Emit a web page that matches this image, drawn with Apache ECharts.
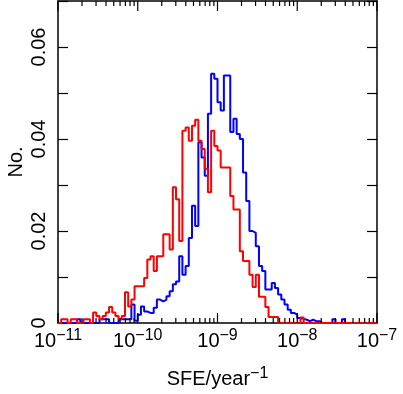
<!DOCTYPE html>
<html>
<head>
<meta charset="utf-8">
<script src="https://cdn.jsdelivr.net/npm/echarts@6.0.0/dist/echarts.min.js"></script>
<style>
html, body { margin: 0; padding: 0; background: #fff; }
#chart { width: 403px; height: 394px; }
#err { position: absolute; left: 70px; top: 20px; font: 10px monospace; color: #c00; }
</style>
</head>
<body>
<div id="chart"></div>
<div id="err"></div>
<script>
window.onerror = function (msg) {
    document.getElementById('err').textContent += msg + ' | ';
};

// histogram bins: log10(SFE) from -11 in steps of 0.04 dex
var logStart = -11,
    binWidth = 0.04;

var red = [
    0, 0.0008, 0.0008, 0, 0.0008, 0.0008, 0, 0, 0.0008, 0.0008,
    0, 0.0023, 0.0015, 0.0008, 0.0015, 0.0023, 0.0035, 0.0023, 0.0015, 0.0008,
    0.0015, 0.0067, 0.0036, 0.0051, 0.008, 0.008, 0.008, 0.0098, 0.0138, 0.0145,
    0.0113, 0.0145, 0.0145, 0.0193, 0.0193, 0.016, 0.0295, 0.0269, 0.0178, 0.0418,
    0.0425, 0.0396, 0.0429, 0.0442, 0.0396, 0.0378, 0.0335, 0.0284, 0.0418, 0.0385,
    0.0375, 0.0338, 0.0338, 0.0338, 0.0276, 0.0247, 0.0247, 0.0156, 0.0135, 0.0135,
    0.0105, 0.0078, 0.0105, 0.0057, 0.0057, 0.0035, 0.0013, 0.0013, 0.0013, 0,
    0, 0, 0, 0, 0, 0, 0.0012, 0, 0, 0,
    0, 0, 0, 0, 0, 0, 0, 0, 0, 0,
    0, 0, 0, 0, 0, 0, 0, 0, 0, 0
];

var blue = [
    0, 0, 0, 0, 0, 0, 0.0008, 0, 0, 0,
    0, 0, 0, 0.0008, 0.0008, 0.0008, 0, 0, 0, 0.0008,
    0.0008, 0.0008, 0.0008, 0.004, 0.0005, 0.0018, 0.0036, 0.0025, 0.0022, 0.0022,
    0.0033, 0.0051, 0.0047, 0.0051, 0.0058, 0.0069, 0.0084, 0.009, 0.0145, 0.0105,
    0.0124, 0.0185, 0.0255, 0.0211, 0.0393, 0.036, 0.032, 0.0455, 0.0542, 0.0531,
    0.048, 0.0462, 0.0538, 0.0538, 0.0415, 0.0444, 0.0411, 0.04, 0.0327, 0.0265,
    0.02, 0.0196, 0.0167, 0.0124, 0.0113, 0.0073, 0.0073, 0.0087, 0.0076, 0.0062,
    0.0051, 0.004, 0.0029, 0.0022, 0.0018, 0.0011, 0.0009, 0.0007, 0.0004, 0.0007,
    0.0004, 0.0004, 0, 0, 0, 0, 0.0008, 0, 0, 0.0008,
    0, 0, 0, 0, 0, 0, 0, 0, 0, 0
];

var yTickLabels = ['0', '', '0.02', '', '0.04', '', '0.06', ''];
var decades = [-11, -10, -9, -8, -7];
var yMax = 0.07;

var font = 'Liberation Sans';

// points at left bin edges, one extra to close the last bin
function stepData(vals) {
    var out = [];
    for (var i = 0; i < vals.length; i++) {
        out.push([Math.pow(10, logStart + i * binWidth), vals[i]]);
    }
    out.push([Math.pow(10, logStart + vals.length * binWidth), vals[vals.length - 1]]);
    return out;
}

// log ticks 1..9 x 10^d : [value, isMajor]
var logTicks = [];
decades.forEach(function (d, i) {
    var n = i < decades.length - 1 ? 9 : 1;
    for (var m = 1; m <= n; m++) logTicks.push([m * Math.pow(10, d), m === 1]);
});

var supRich = {
    b: { fontSize: 20, fontFamily: font, color: '#000', lineHeight: 26, verticalAlign: 'middle' },
    s: { fontSize: 16, fontFamily: font, color: '#000', lineHeight: 15, verticalAlign: 'top' }
};

function xAxisOpt(pos, showLabel) {
    return {
        type: 'log',
        logBase: 10,
        position: pos,
        min: 1e-11,
        max: 1e-7,
        splitNumber: 4,
        axisLine: { show: true, onZero: false, lineStyle: { color: '#000', width: 1.5 } },
        axisTick: { show: false },
        minorTick: { show: false },
        splitLine: { show: false },
        minorSplitLine: { show: false },
        axisLabel: {
            show: showLabel,
            margin: 5,
            showMinLabel: true,
            showMaxLabel: true,
            formatter: function (v) {
                var e = Math.round(Math.log10(v));
                return '{b|10}{s|\u2212' + (-e) + '}';
            },
            rich: supRich
        }
    };
}

function yAxisOpt(pos, showLabel) {
    return {
        type: 'value',
        position: pos,
        min: 0,
        max: yMax,
        interval: 0.01,
        axisLine: { show: true, onZero: false, lineStyle: { color: '#000', width: 1.5 } },
        axisTick: { show: true, inside: true, length: 10, lineStyle: { color: '#000', width: 1.2 } },
        splitLine: { show: false },
        axisLabel: {
            show: showLabel,
            rotate: 90,
            margin: 9,
            fontSize: 20,
            fontFamily: font,
            color: '#000',
            formatter: function (v) {
                return yTickLabels[Math.round(v / 0.01)] || '';
            }
        }
    };
}

var myChart = echarts.init(document.getElementById('chart'), null, { renderer: 'canvas' });

var bottomX = xAxisOpt('bottom', true);
bottomX.name = '{b|SFE/year}{s|\u22121}';
bottomX.nameLocation = 'middle';
bottomX.nameGap = 43;
bottomX.nameTextStyle = { rich: supRich };

var leftY = yAxisOpt('left', true);
leftY.name = 'No.';
leftY.nameLocation = 'middle';
leftY.nameRotate = 90;
leftY.nameGap = 32;
leftY.nameMoveOverlap = false;
leftY.nameTextStyle = { fontSize: 20, fontFamily: font, color: '#000' };

var option = {
    animation: false,
    backgroundColor: '#fff',
    grid: { left: 58, right: 26, top: 1, bottom: 71, outerBoundsMode: 'none' },
    xAxis: [bottomX, xAxisOpt('top', false)],
    yAxis: [leftY, yAxisOpt('right', false)],
    series: [
        {
            name: 'blue',
            type: 'line',
            step: 'end',
            symbol: 'none',
            xAxisIndex: 0,
            yAxisIndex: 0,
            lineStyle: { color: '#0000ff', width: 2 },
            data: stepData(blue)
        },
        {
            name: 'red',
            type: 'line',
            step: 'end',
            symbol: 'none',
            xAxisIndex: 0,
            yAxisIndex: 0,
            lineStyle: { color: '#ff0000', width: 2 },
            data: stepData(red)
        }
    ]
};

myChart.setOption(option);

// x ticks on bottom and top edges, placed through the chart's own log scale
var yBottom = myChart.convertToPixel({ yAxisIndex: 0 }, 0);
var yTop = myChart.convertToPixel({ yAxisIndex: 0 }, yMax);
var tickEls = [];
logTicks.forEach(function (t) {
    var x = myChart.convertToPixel({ xAxisIndex: 0 }, t[0]);
    var len = t[1] ? 10 : 5;
    var st = { stroke: '#000', lineWidth: 1.2 };
    tickEls.push({ type: 'line', z: 100, silent: true, shape: { x1: x, y1: yBottom, x2: x, y2: yBottom - len }, style: st });
    tickEls.push({ type: 'line', z: 100, silent: true, shape: { x1: x, y1: yTop, x2: x, y2: yTop + len }, style: st });
});
myChart.setOption({ graphic: { elements: tickEls } });
</script>
</body>
</html>
